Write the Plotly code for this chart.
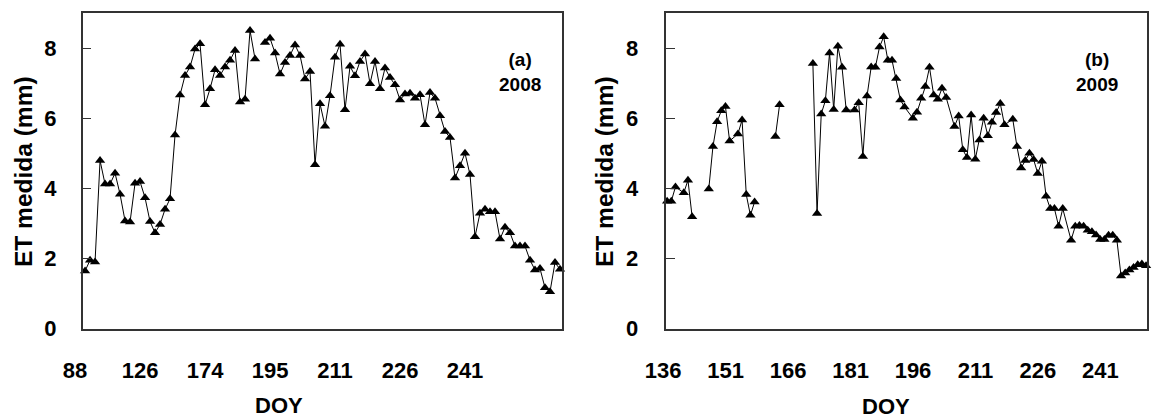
import plotly.graph_objects as go

# ---- Panel (a) 2008: observation index (category axis) ----
et_2008 = [1.64, 1.95, 1.90, 4.79, 4.12, 4.12, 4.43, 3.83, 3.07, 3.04,
           4.14, 4.19, 3.73, 3.05, 2.73, 2.97, 3.40, 3.70, 5.52, 6.66,
           7.22, 7.46, 7.97, 8.12, 6.38, 6.84, 7.38, 7.22, 7.46, 7.65,
           7.93, 6.46, 6.54, 8.50, 7.69, None, 8.16, 8.28, 7.86, 7.26,
           7.59, 7.79, 8.09, 7.79, 7.12, 7.33, 4.67, 6.41, 5.77, 6.64,
           7.74, 8.11, 6.24, 7.48, 7.21, 7.62, 7.83, 6.98, 7.62, 6.84,
           7.43, 7.16, 6.95, 6.52, 6.69, 6.71, 6.57, 6.67, 5.81, 6.73,
           6.57, 6.07, 5.62, 5.45, 4.29, 4.64, 5.00, 4.39, 2.62, 3.29,
           3.40, 3.33, 3.33, 2.55, 2.89, 2.73, 2.35, 2.35, 2.35, 1.95,
           1.67, 1.71, 1.16, 1.05, 1.88, 1.69]
obs_2008 = list(range(len(et_2008)))
tick_pos_2008 = [0, 13, 26, 39, 52, 65, 78]
tick_lab_2008 = ["88", "126", "174", "195", "211", "226", "241"]

# ---- Panel (b) 2009: day of year ----
doy_2009 = [136, 137, 138, 140, 141, 142, None,
            146, 147, 148, 149, 150, 151, 153, 154, 155, 156, 157, None,
            162, 163, None,
            171, 172, 173, 174, 175, 176, 177, 178, 179, 181, 182, 183,
            184, 185, 186, 187, 188, 189, 190, 191, 192, 193,
            195, 196, 197, 198, 199, 200, 201, 202, 203, 205, 206, 207,
            208, 209, 210, 211, 212, 213, 214, 215, 216, 217, 219, 220,
            221, 222, 223, 224, 225, 226, 227, 228, 229, 230, 231, 233,
            234, 235, 236, 237, 238, 239, 240, 241, 242, 243, 244, 245,
            246, 247, 248, 249, 250, 251]
et_2009 = [3.63, 3.63, 4.04, 3.87, 4.23, 3.19, None,
           3.98, 5.19, 5.90, 6.21, 6.33, 5.35, 5.55, 5.95, 3.82, 3.23, 3.61, None,
           5.48, 6.38, None,
           7.56, 3.28, 6.12, 6.50, 7.86, 6.25, 8.05, 7.45, 6.23, 6.23, 6.44, 4.91,
           6.63, 7.46, 7.45, 8.03, 8.32, 7.65, 7.65, 7.13, 6.52, 6.32,
           6.00, 6.17, 6.57, 6.90, 7.45, 6.66, 6.54, 6.85, 6.59, 5.76, 6.06, 5.10,
           4.88, 6.09, 4.83, 5.38, 6.00, 5.50, 5.88, 6.16, 6.42, 5.81, 5.97, 5.19,
           4.58, 4.79, 5.00, 4.82, 4.42, 4.77, 3.77, 3.42, 3.42, 2.92, 3.42, 2.52,
           2.92, 2.94, 2.92, 2.80, 2.76, 2.67, 2.54, 2.54, 2.66, 2.66, 2.52, 1.50,
           1.58, 1.67, 1.74, 1.82, 1.84, 1.79]
tick_pos_2009 = [136, 151, 166, 181, 196, 211, 226, 241]
tick_lab_2009 = [str(v) for v in tick_pos_2009]

y_ticks = [0, 2, 4, 6, 8]

W, H = 1163, 419
FONT = "Liberation Sans, Arial, sans-serif"

fig = go.Figure()
common = dict(mode="lines+markers",
              line=dict(color="black", width=1),
              marker=dict(symbol="triangle-up", size=9, color="black"),
              connectgaps=False, cliponaxis=False, showlegend=False)
fig.add_trace(go.Scatter(x=obs_2008, y=et_2008, xaxis="x", yaxis="y", **common))
fig.add_trace(go.Scatter(x=doy_2009, y=et_2009, xaxis="x2", yaxis="y2", **common))

ydom = [(H - 328.5) / H, (H - 13) / H]
axis_line = dict(showline=True, linecolor="#333", linewidth=1.5, mirror=True,
                 showgrid=False, zeroline=False, automargin=False)
tickfont = dict(family=FONT, size=22, color="black", weight="bold")

fig.update_layout(
    width=W, height=H,
    margin=dict(l=0, r=0, t=0, b=0, autoexpand=False),
    paper_bgcolor="white", plot_bgcolor="white",
    xaxis=dict(domain=[82.7 / W, 562.3 / W], range=[-0.47, 95.46],
               tickmode="array", tickvals=tick_pos_2008, ticktext=tick_lab_2008,
               ticks="", ticklabelstandoff=21, ticklabelshift=-10,
               tickfont=tickfont, anchor="y", **axis_line),
    yaxis=dict(domain=ydom, range=[0, 9], tickmode="array", tickvals=y_ticks,
               ticks="inside", ticklen=9, tickcolor="#333", tickwidth=1,
               ticklabelstandoff=20, tickfont=tickfont, anchor="x", **axis_line),
    xaxis2=dict(domain=[666.3 / W, 1147.3 / W], range=[135.8, 251.3],
                tickmode="array", tickvals=tick_pos_2009, ticktext=tick_lab_2009,
                ticks="", ticklabelstandoff=21, ticklabelshift=-4,
                tickfont=tickfont, anchor="y2", **axis_line),
    yaxis2=dict(domain=ydom, range=[0, 9], tickmode="array", tickvals=y_ticks,
                ticks="inside", ticklen=9, tickcolor="#333", tickwidth=1,
                ticklabelstandoff=22, tickfont=tickfont, anchor="x2", **axis_line),
)

tfont = dict(family=FONT, size=24.5, color="black", weight="bold")
dfont = dict(family=FONT, size=22, color="black", weight="bold")
afont = dict(family=FONT, size=19, color="black", weight="bold")
ann = [
    dict(text="ET medida (mm)", x=23 / W, y=(H - 172) / H, textangle=-90, font=tfont),
    dict(text="ET medida (mm)", x=604 / W, y=(H - 172) / H, textangle=-90, font=tfont),
    dict(text="DOY", x=279 / W, y=(H - 405) / H, font=dfont),
    dict(text="DOY", x=886 / W, y=(H - 406) / H, font=dfont),
    dict(text="(a)<br>2008", x=520 / W, y=(H - 71.5) / H, font=afont),
    dict(text="(b)<br>2009", x=1097 / W, y=(H - 71.5) / H, font=afont),
]
for a in ann:
    fig.add_annotation(xref="paper", yref="paper", showarrow=False,
                       xanchor="center", yanchor="middle", **a)

fig.write_html("out.html")
